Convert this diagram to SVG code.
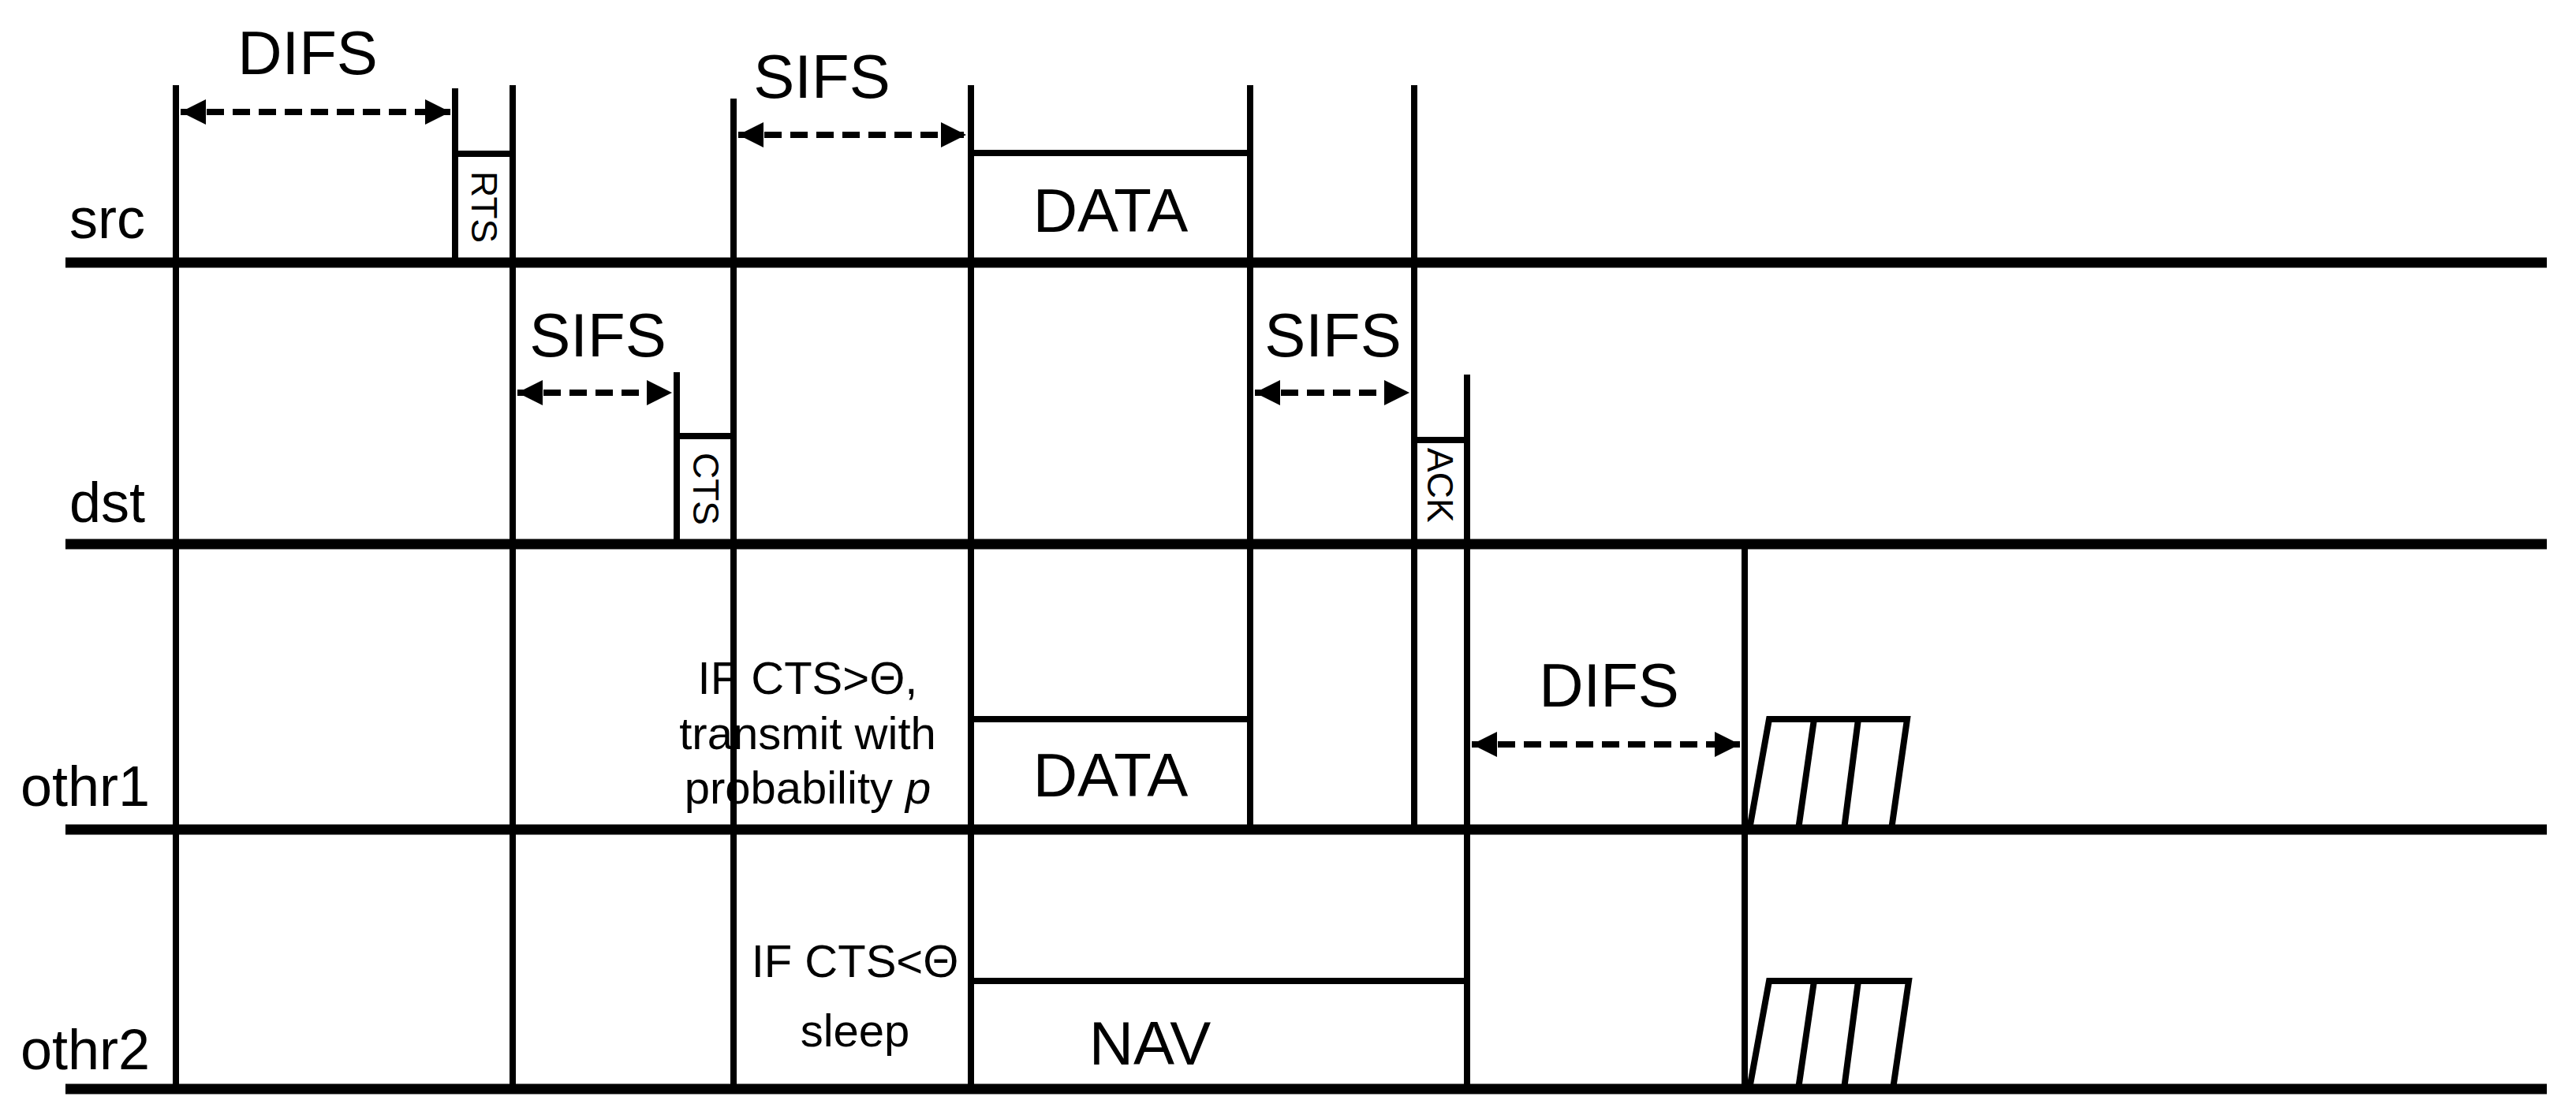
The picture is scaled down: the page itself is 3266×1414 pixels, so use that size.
<svg xmlns="http://www.w3.org/2000/svg" width="3266" height="1414" viewBox="0 0 3266 1414">
<style>
text{font-family:"Liberation Sans",Arial,sans-serif;fill:#000}
.lane{stroke:#000;stroke-width:13}
.v{stroke:#000;stroke-width:8}
.box{stroke:#000;stroke-width:8;fill:none}
.dash{stroke:#000;stroke-width:8;stroke-dasharray:22 11;marker-start:url(#ah);marker-end:url(#ah)}
.big{font-size:78px}
.lab{font-size:72px}
.note{font-size:58px}
.small{font-size:46px}
</style>
<defs>
<marker id="ah" viewBox="0 0 10 10" refX="10" refY="5" markerWidth="4" markerHeight="4" orient="auto-start-reverse" markerUnits="strokeWidth"><path d="M0,0L10,5L0,10z"/></marker>
</defs>
<rect width="3266" height="1414" fill="#fff"/>
<g id="lanes">
<line class="lane" x1="83" y1="333" x2="3229" y2="333"/>
<line class="lane" x1="83" y1="690" x2="3229" y2="690"/>
<line class="lane" x1="83" y1="1052" x2="3229" y2="1052"/>
<line class="lane" x1="83" y1="1381" x2="3229" y2="1381"/>
<text class="lab" x="88" y="302">src</text>
<text class="lab" x="88" y="662">dst</text>
<text class="lab" x="26" y="1022">othr1</text>
<text class="lab" x="26" y="1356">othr2</text>
</g>
<g id="verticals">
<line class="v" x1="223" y1="108" x2="223" y2="1381"/>
<line class="v" x1="650" y1="108" x2="650" y2="1381"/>
<line class="v" x1="930" y1="125" x2="930" y2="1381"/>
<line class="v" x1="1231" y1="108" x2="1231" y2="1381"/>
<line class="v" x1="1585" y1="108" x2="1585" y2="1052"/>
<line class="v" x1="1793" y1="108" x2="1793" y2="1052"/>
<line class="v" x1="1860" y1="475" x2="1860" y2="1381"/>
<line class="v" x1="2212" y1="690" x2="2212" y2="1381"/>
</g>
<g id="rts">
<line class="v" x1="577" y1="112" x2="577" y2="333"/>
<line class="v" x1="577" y1="195" x2="650" y2="195"/>
<text class="small" transform="translate(598,217) rotate(90)">RTS</text>
</g>
<g id="cts">
<line class="v" x1="858" y1="472" x2="858" y2="690"/>
<line class="v" x1="858" y1="553" x2="930" y2="553"/>
<text class="small" transform="translate(879,574) rotate(90)">CTS</text>
</g>
<g id="ack">
<line class="v" x1="1793" y1="558" x2="1860" y2="558"/>
<text class="small" transform="translate(1810,568) rotate(90)">ACK</text>
</g>
<g id="data-src">
<line class="v" x1="1231" y1="194" x2="1585" y2="194"/>
<text class="big" x="1408" y="294" text-anchor="middle">DATA</text>
</g>
<g id="data-othr1">
<line class="v" x1="1231" y1="912" x2="1585" y2="912"/>
<text class="big" x="1408" y="1010" text-anchor="middle">DATA</text>
</g>
<g id="nav">
<line class="v" x1="1231" y1="1244" x2="1860" y2="1244"/>
<text class="big" x="1458" y="1350" text-anchor="middle">NAV</text>
</g>
<g id="notes">
<text class="note" x="1024" y="880" text-anchor="middle">IF CTS&gt;Θ,</text>
<text class="note" x="1024" y="950" text-anchor="middle">transmit with</text>
<text class="note" x="1024" y="1019" text-anchor="middle">probability <tspan font-style="italic">p</tspan></text>
<text class="note" x="1084" y="1239" text-anchor="middle">IF CTS&lt;Θ</text>
<text class="note" x="1084" y="1327" text-anchor="middle">sleep</text>
</g>
<g id="backoff1">
<path class="box" d="M2218,1052L2243,912H2418L2398,1052"/>
<path class="box" d="M2280,1052L2300,912M2338,1052L2356,912"/>
</g>
<g id="backoff2">
<path class="box" d="M2218,1381L2243,1244H2420L2400,1381"/>
<path class="box" d="M2280,1381L2300,1244M2338,1381L2356,1244"/>
</g>
<g id="connectors">
<line class="dash" x1="229" y1="142" x2="571" y2="142"/>
<text class="big" x="390" y="94" text-anchor="middle">DIFS</text>
<line class="dash" x1="936" y1="171" x2="1225" y2="171"/>
<text class="big" x="1042" y="124" text-anchor="middle">SIFS</text>
<line class="dash" x1="656" y1="498" x2="852" y2="498"/>
<text class="big" x="758" y="452" text-anchor="middle">SIFS</text>
<line class="dash" x1="1591" y1="498" x2="1787" y2="498"/>
<text class="big" x="1690" y="452" text-anchor="middle">SIFS</text>
<line class="dash" x1="1866" y1="944" x2="2206" y2="944"/>
<text class="big" x="2040" y="896" text-anchor="middle">DIFS</text>
</g>
</svg>
